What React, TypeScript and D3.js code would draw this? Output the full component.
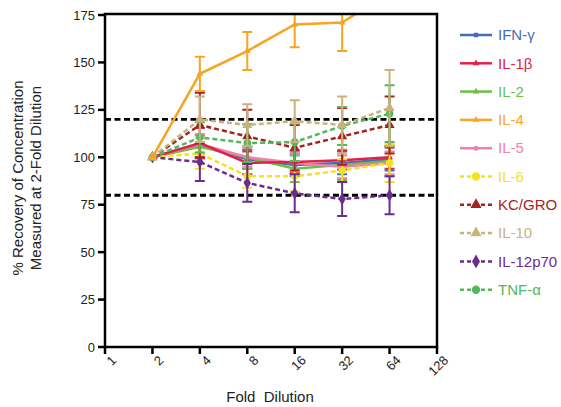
import * as d3 from "d3";
import React, { useEffect, useRef } from "react";

const dilutions = [2, 4, 8, 16, 32, 64];
const xTicks = [1, 2, 4, 8, 16, 32, 64, 128];
const yTicks = [0, 25, 50, 75, 100, 125, 150, 175];
const limits = [80, 120];

const names = ["IFN-γ", "IL-1β", "IL-2", "IL-4", "IL-5", "IL-6", "KC/GRO", "IL-10", "IL-12p70", "TNF-α"];
const colors = ["#4a6cb3", "#e2204c", "#6cbf45", "#f6a521", "#f07fb2", "#f2e31c", "#a6231c", "#c9b27c", "#6a2c8f", "#52b85c"];
const dashed = [false, false, false, false, false, true, true, true, true, true];

const ifng = [100, 106, 99, 96, 97, 99];
const il1b = [100, 107.5, 97, 97.5, 98.5, 100];
const il2 = [100, 105.5, 100, 94, 96, 98];
const il4 = [100, 144, 156, 170, 171, 187];
const il5 = [100, 107, 100, 97, 95, 97];
const il6 = [100, 102, 90, 90, 93, 97];
const kcgro = [100, 117, 111, 105, 111, 117];
const il10 = [100, 120, 117, 119, 117, 126];
const il12 = [100, 97.5, 86.5, 81, 78, 80];
const tnfa = [100, 110.5, 107.5, 108, 116.5, 123];

const ifngErr = [0, 6, 5, 6, 6, 6];
const il1bErr = [0, 8, 6, 6, 5, 6];
const il2Err = [0, 6, 6, 7, 8, 8];
const il4Err = [0, 9, 10, 12, 15, 0];
const il5Err = [0, 5, 5, 5, 6, 6];
const il6Err = [0, 8, 6, 8, 6, 10];
const kcgroErr = [0, 17, 14, 12, 15, 15];
const il10Err = [0, 12, 11, 11, 15, 20];
const il12Err = [0, 10, 10, 10, 9, 10];
const tnfaErr = [0, 8, 10, 10, 10, 15];

const values = [ifng, il1b, il2, il4, il5, il6, kcgro, il10, il12, tnfa];
const errors = [ifngErr, il1bErr, il2Err, il4Err, il5Err, il6Err, kcgroErr, il10Err, il12Err, tnfaErr];
const symbols = [d3.symbolSquare, d3.symbolTriangle, d3.symbolTriangle, d3.symbolTriangle, d3.symbolCircle,
  d3.symbolCircle, d3.symbolTriangle, d3.symbolTriangle, d3.symbolDiamond, d3.symbolCircle];

function App() {
  const ref = useRef(null);

  useEffect(() => {
    const svg = d3.select(ref.current);
    svg.selectAll("*").remove();

    const left = 105, right = 437, top = 14, bottom = 347;

    const x = d3.scaleLog().base(2).domain([1, 128]).range([left, right]);
    const y = d3.scaleLinear().domain([0, 175]).range([bottom, 15]);

    svg.append("defs").append("clipPath").attr("id", "plotclip")
      .append("rect").attr("x", left).attr("y", top).attr("width", right - left).attr("height", bottom - top);

    const plot = svg.append("g").attr("clip-path", "url(#plotclip)");

    // reference lines at 80 and 120
    plot.selectAll(".limit").data(limits).enter().append("line")
      .attr("x1", left).attr("x2", right)
      .attr("y1", (d) => y(d)).attr("y2", (d) => y(d))
      .attr("stroke", "#000").attr("stroke-width", 2.8).attr("stroke-dasharray", "6,3.5");

    const line = d3.line().x((d) => x(d[0])).y((d) => y(d[1]));

    const order = [0, 2, 4, 1, 5, 8, 6, 9, 7, 3];
    order.forEach((i) => {
      const pts = dilutions.map((d, j) => [d, values[i][j], errors[i][j]]);
      const g = plot.append("g");
      g.selectAll(".err").data(pts.filter((p) => p[2] > 0)).enter().append("path")
        .attr("d", (p) => {
          const cx = x(p[0]), y1 = y(p[1] + p[2]), y2 = y(p[1] - p[2]);
          return `M${cx},${y1}V${y2}M${cx - 5},${y1}H${cx + 5}M${cx - 5},${y2}H${cx + 5}`;
        })
        .attr("fill", "none").attr("stroke", colors[i]).attr("stroke-width", 2);
      g.append("path").datum(pts).attr("d", line)
        .attr("fill", "none").attr("stroke", colors[i]).attr("stroke-width", 2.5)
        .attr("stroke-dasharray", dashed[i] ? "5,3" : null);
      g.selectAll(".pt").data(pts).enter().append("path")
        .attr("transform", (p) => `translate(${x(p[0])},${y(p[1])})`)
        .attr("d", d3.symbol().type(symbols[i]).size(dashed[i] ? 45 : 20))
        .attr("fill", colors[i]);
    });

    // frame
    svg.append("rect").attr("x", left).attr("y", top).attr("width", right - left).attr("height", bottom - top)
      .attr("fill", "none").attr("stroke", "#000").attr("stroke-width", 2.5);

    // y axis
    const yAxis = svg.append("g");
    yAxis.selectAll("line").data(yTicks).enter().append("line")
      .attr("x1", left - 7).attr("x2", left).attr("y1", (d) => y(d)).attr("y2", (d) => y(d))
      .attr("stroke", "#000").attr("stroke-width", 2.5);
    yAxis.selectAll("text").data(yTicks).enter().append("text")
      .attr("x", left - 10).attr("y", (d) => y(d)).attr("dy", "0.35em")
      .attr("text-anchor", "end").attr("font-size", "13px").attr("fill", "#222")
      .text((d) => d);

    // x axis
    const xAxis = svg.append("g");
    xAxis.selectAll("line").data(xTicks).enter().append("line")
      .attr("x1", (d) => x(d)).attr("x2", (d) => x(d)).attr("y1", bottom).attr("y2", bottom + 7)
      .attr("stroke", "#000").attr("stroke-width", 2.5);
    xAxis.selectAll("text").data(xTicks).enter().append("text")
      .attr("transform", (d) => `translate(${x(d) + 7},${bottom + 9}) rotate(-45)`)
      .attr("dy", "0.55em")
      .attr("text-anchor", "end").attr("font-size", "13px").attr("fill", "#222")
      .text((d) => d);

    svg.append("text").attr("x", 270).attr("y", 402).attr("text-anchor", "middle")
      .attr("font-size", "15px").attr("fill", "#222").attr("xml:space", "preserve")
      .text("Fold  Dilution");

    const yTitle = svg.append("text").attr("transform", "translate(23,178) rotate(-90)")
      .attr("text-anchor", "middle").attr("font-size", "15px").attr("fill", "#222");
    yTitle.append("tspan").attr("x", 0).attr("y", 0).text("% Recovery of Concentration");
    yTitle.append("tspan").attr("x", 0).attr("y", 18).text("Measured at 2-Fold Dilution");

    // legend
    const legend = svg.append("g");
    names.forEach((name, i) => {
      const ly = 35 + i * 28.3;
      const item = legend.append("g").attr("transform", `translate(0,${ly})`);
      item.append("line").attr("x1", 460).attr("x2", 492).attr("y1", 0).attr("y2", 0)
        .attr("stroke", colors[i]).attr("stroke-width", 2.5)
        .attr("stroke-dasharray", dashed[i] ? "4,3" : null);
      item.append("path").attr("transform", "translate(476,0)")
        .attr("d", d3.symbol().type(symbols[i]).size(dashed[i] ? 55 : 20))
        .attr("fill", colors[i]);
      item.append("text").attr("x", 498).attr("y", 0).attr("dy", "0.35em")
        .attr("font-size", "15px").attr("fill", colors[i]).text(name);
    });
  }, []);

  return (
    <svg
      ref={ref}
      width={561}
      height={407}
      style={{ position: "absolute", left: 0, top: 0, fontFamily: "'Liberation Sans', Arial, sans-serif", background: "#fff" }}
    />
  );
}

export default App;
